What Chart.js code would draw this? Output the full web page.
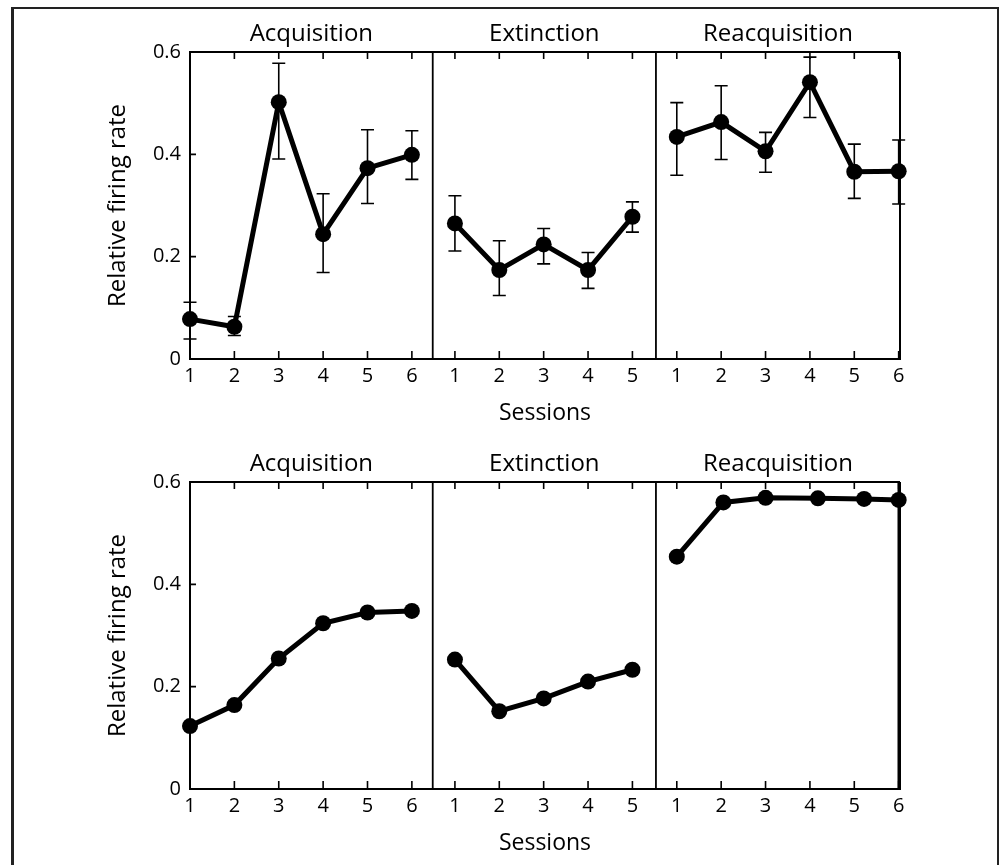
<!DOCTYPE html>
<html>
<head>
<meta charset="utf-8">
<script src="https://cdn.jsdelivr.net/npm/chart.js@4.4.0/dist/chart.umd.min.js"></script>
<style>
  html, body { margin: 0; padding: 0; background: #fff; overflow: hidden; }
  body { width: 1003px; height: 865px; position: relative; }
  .frame {
    position: absolute; left: 11px; top: 7px; width: 988px; height: 900px;
    box-sizing: border-box; border: 2px solid #222; border-left-width: 3px;
  }
  .row { position: absolute; left: 0; width: 1003px; height: 430px; }
  #topRow { top: 0; }
  #bottomRow { top: 430px; }
</style>
</head>
<body>
<div class="frame"></div>
<div class="row" id="topRow"><canvas id="topChart" width="1003" height="430"></canvas></div>
<div class="row" id="bottomRow"><canvas id="bottomChart" width="1003" height="430"></canvas></div>

<script>
const panelNames = ['Acquisition', 'Extinction', 'Reacquisition']
const acqSessions = [1, 2, 3, 4, 5, 6]
const extSessions = [1, 2, 3, 4, 5]
const reacqSessions = [1, 2, 3, 4, 5, 6]
const yTicks = [0, 0.2, 0.4, 0.6]

// top row, recorded firing rate with error bars
const acqTop = [0.078, 0.063, 0.502, 0.244, 0.373, 0.399]
const acqTopLow = [0.039, 0.046, 0.391, 0.169, 0.304, 0.351]
const acqTopHigh = [0.111, 0.083, 0.578, 0.323, 0.448, 0.446]
const extTop = [0.265, 0.174, 0.224, 0.174, 0.278]
const extTopLow = [0.211, 0.124, 0.186, 0.138, 0.248]
const extTopHigh = [0.319, 0.231, 0.255, 0.208, 0.307]
const reacqTop = [0.434, 0.463, 0.406, 0.541, 0.366, 0.367]
const reacqTopLow = [0.359, 0.390, 0.365, 0.472, 0.314, 0.303]
const reacqTopHigh = [0.501, 0.534, 0.443, 0.590, 0.420, 0.428]

// bottom row, model
const acqBottom = [0.123, 0.164, 0.255, 0.324, 0.345, 0.348]
const extBottom = [0.253, 0.152, 0.177, 0.210, 0.233]
const reacqBottom = [0.454, 0.560, 0.569, 0.568, 0.567, 0.565]
const reacqBottomSessions = [1, 2.05, 3, 4.18, 5.22, 6]

// where each panel sits on the shared x scale
const panels = [
  { start: 0, end: 5.47, offset: -1, sessions: acqSessions },
  { start: 5.47, end: 10.5, offset: 4.97, sessions: extSessions },
  { start: 10.5, end: 16, offset: 9.97, sessions: reacqSessions }
]

const FONT = "'Open Sans', 'DejaVu Sans', sans-serif"

const tickMap = {}
const tickValues = []
panels.forEach(p => {
  p.sessions.forEach(s => {
    const u = s + p.offset
    tickValues.push(u)
    tickMap[u.toFixed(2)] = String(s)
  })
})

function points(sessions, values, low, high, offset) {
  return values.map((v, i) => {
    const pt = { x: sessions[i] + offset, y: v }
    if (low) {
      pt.low = low[i]
      pt.high = high[i]
    }
    return pt
  })
}

function lineSet(data) {
  return {
    data,
    borderColor: '#000',
    backgroundColor: '#000',
    borderWidth: 5,
    pointRadius: 8,
    pointHoverRadius: 8,
    pointBorderWidth: 0,
    tension: 0,
    clip: false
  }
}

const panelPlugin = {
  id: 'panels',
  beforeDatasetsDraw(chart, args, opts) {
    const { ctx, chartArea: a, scales: { x, y } } = chart
    ctx.save()
    ctx.strokeStyle = '#000'

    // top line, separators, right edge
    ctx.lineWidth = 2
    ctx.beginPath()
    ctx.moveTo(a.left, a.top)
    ctx.lineTo(a.right, a.top)
    ctx.stroke()
    ctx.lineWidth = 1.8
    panels.slice(1).forEach(p => {
      const px = x.getPixelForValue(p.start)
      ctx.beginPath()
      ctx.moveTo(px, a.top)
      ctx.lineTo(px, a.bottom)
      ctx.stroke()
    })
    ctx.lineWidth = opts.rightWidth
    ctx.beginPath()
    ctx.moveTo(a.right - opts.rightWidth / 2 + 1, a.top)
    ctx.lineTo(a.right - opts.rightWidth / 2 + 1, a.bottom + 1)
    ctx.stroke()

    // inward ticks
    ctx.lineWidth = 1.6
    ctx.beginPath()
    tickValues.forEach(u => {
      const px = x.getPixelForValue(u)
      ctx.moveTo(px, a.top)
      ctx.lineTo(px, a.top + 7)
      ctx.moveTo(px, a.bottom)
      ctx.lineTo(px, a.bottom - 8)
    })
    yTicks.forEach(v => {
      const py = y.getPixelForValue(v)
      ctx.moveTo(a.left, py)
      ctx.lineTo(a.left + 6, py)
    })
    ctx.stroke()

    // error bars
    ctx.lineWidth = 1.6
    chart.data.datasets.forEach(ds => {
      ds.data.forEach(p => {
        if (p.low == null) return
        const px = x.getPixelForValue(p.x)
        const y1 = y.getPixelForValue(p.low)
        const y2 = y.getPixelForValue(p.high)
        ctx.beginPath()
        ctx.moveTo(px, y1)
        ctx.lineTo(px, y2)
        ctx.moveTo(px - 6.5, y1)
        ctx.lineTo(px + 6.5, y1)
        ctx.moveTo(px - 6.5, y2)
        ctx.lineTo(px + 6.5, y2)
        ctx.stroke()
      })
    })
    ctx.restore()
  },
  afterDraw(chart) {
    const { ctx, chartArea: a, scales: { x } } = chart
    ctx.save()
    ctx.fillStyle = '#000'
    ctx.font = '24px ' + FONT
    ctx.textAlign = 'center'
    ctx.textBaseline = 'alphabetic'
    panels.forEach((p, i) => {
      const cx = (x.getPixelForValue(p.start) + x.getPixelForValue(p.end)) / 2
      ctx.fillText(panelNames[i], cx, a.top - 11)
    })
    ctx.restore()
  }
}

function makeRow(id, datasets, rightWidth) {
  const ctx = document.getElementById(id).getContext('2d')
  return new Chart(ctx, {
    type: 'line',
    data: { datasets },
    options: {
      responsive: false,
      animation: false,
      events: [],
      layout: { padding: { left: 100, right: 103, top: 52, bottom: 3 } },
      plugins: {
        legend: { display: false },
        tooltip: { enabled: false },
        panels: { rightWidth }
      },
      scales: {
        x: {
          type: 'linear',
          min: 0,
          max: 16,
          afterFit: s => { s.height = 68 },
          afterBuildTicks: s => { s.ticks = tickValues.map(v => ({ value: v })) },
          grid: { display: false, drawTicks: false },
          border: { display: true, color: '#000', width: 2 },
          ticks: {
            autoSkip: false,
            maxRotation: 0,
            padding: 5,
            color: '#000',
            font: { family: FONT, size: 20 },
            callback: v => tickMap[Number(v).toFixed(2)] || ''
          },
          title: {
            display: true,
            text: 'Sessions',
            color: '#000',
            font: { family: FONT, size: 23 },
            padding: { top: 3, bottom: 0 }
          }
        },
        y: {
          min: 0,
          max: 0.6,
          afterFit: s => { s.width = 90 },
          afterBuildTicks: s => { s.ticks = yTicks.map(v => ({ value: v })) },
          grid: { display: false, drawTicks: false },
          border: { display: true, color: '#000', width: 2 },
          ticks: {
            padding: 9,
            color: '#000',
            font: { family: FONT, size: 20 },
            callback: v => v === 0 ? '0' : Number(v).toFixed(1)
          },
          title: {
            display: true,
            text: 'Relative firing rate',
            color: '#000',
            font: { family: FONT, size: 24 },
            padding: { top: 4, bottom: 0 }
          }
        }
      }
    },
    plugins: [panelPlugin]
  })
}

const topChart = makeRow('topChart', [
  lineSet(points(acqSessions, acqTop, acqTopLow, acqTopHigh, panels[0].offset)),
  lineSet(points(extSessions, extTop, extTopLow, extTopHigh, panels[1].offset)),
  lineSet(points(reacqSessions, reacqTop, reacqTopLow, reacqTopHigh, panels[2].offset))
], 2)

const bottomChart = makeRow('bottomChart', [
  lineSet(points(acqSessions, acqBottom, null, null, panels[0].offset)),
  lineSet(points(extSessions, extBottom, null, null, panels[1].offset)),
  lineSet(points(reacqBottomSessions, reacqBottom, null, null, panels[2].offset))
], 3.5)
</script>
</body>
</html>
